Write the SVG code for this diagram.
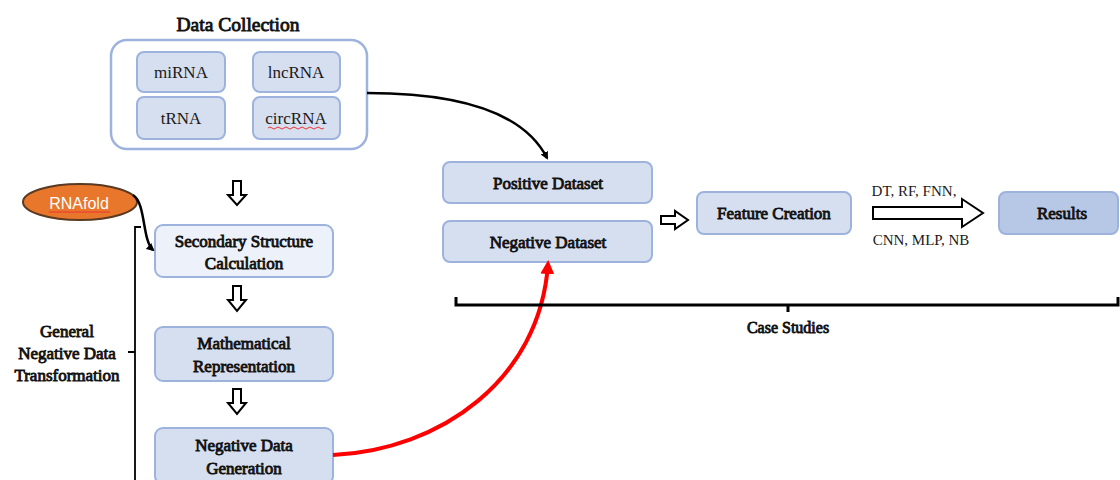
<svg xmlns="http://www.w3.org/2000/svg" width="1120" height="480" viewBox="0 0 1120 480">
<defs>
<style>
.box{fill:#D6DFF0;stroke:#9DB3DD;stroke-width:2}
.light{fill:#EDF1F9;stroke:#9DB3DD;stroke-width:2}
.res{fill:#B7C8E6;stroke:#9DB3DD;stroke-width:2}
.outer{fill:#fff;stroke:#9DB3DD;stroke-width:2.5}
.b{font-family:'Liberation Serif',serif;font-size:17px;fill:#111;stroke:#111;stroke-width:0.85;text-anchor:middle}
.r{font-family:'Liberation Serif',serif;font-size:17px;fill:#1a1a1a;text-anchor:middle}
.s{font-family:'Liberation Serif',serif;font-size:15px;fill:#1a1a1a;text-anchor:middle}
.hollow{fill:#fff;stroke:#000;stroke-width:2;stroke-linejoin:miter}
.line{fill:none;stroke:#000;stroke-width:2.5}
</style>
<marker id="ah" markerWidth="8" markerHeight="8" refX="6" refY="4" orient="auto" markerUnits="userSpaceOnUse" viewBox="0 0 8 8">
<path d="M0,0 L8,4 L0,8 Z" fill="#000"/>
</marker>
<marker id="ahr" markerWidth="14" markerHeight="14" refX="10" refY="7" orient="auto" markerUnits="userSpaceOnUse" viewBox="0 0 14 14">
<path d="M0,0 L14,7 L0,14 Z" fill="#f00"/>
</marker>
</defs>

<g id="data-collection">
<text class="b" x="238" y="31" style="font-size:19.5px">Data Collection</text>
<rect class="outer" x="111" y="40" width="256" height="109" rx="16"/>
</g>
<g id="mirna"><rect class="box" x="137" y="52" width="88" height="40" rx="7"/><text class="r" x="181" y="78">miRNA</text></g>
<g id="lncrna"><rect class="box" x="253" y="52" width="87" height="40" rx="7"/><text class="r" x="296" y="78">lncRNA</text></g>
<g id="trna"><rect class="box" x="137" y="97" width="88" height="42" rx="7"/><text class="r" x="181" y="124">tRNA</text></g>
<g id="circrna"><rect class="box" x="253" y="97" width="87" height="42" rx="7"/><text class="r" x="296" y="124">circRNA</text>
<path d="M268,128 q2,-2 4,0 t4,0 t4,0 t4,0 t4,0 t4,0 t4,0 t4,0 t4,0 t4,0 t4,0 t4,0 t4,0 t4,0" fill="none" stroke="#e33" stroke-width="1"/></g>

<g id="rnafold">
<ellipse cx="80" cy="202" rx="57" ry="18" fill="#E8762B" stroke="#5a3a22" stroke-width="2"/>
<text x="79" y="209" style="font-family:'Liberation Sans',sans-serif;font-size:16px;fill:#fff;text-anchor:middle">RNAfold</text>
<line x1="49" y1="212" x2="110" y2="212" stroke="#e33" stroke-width="1"/>
</g>

<g id="secondary"><rect class="light" x="155" y="225" width="178" height="52" rx="8"/><text class="b" x="244" y="247">Secondary Structure</text><text class="b" x="244" y="269">Calculation</text></g>
<g id="math"><rect class="box" x="155" y="327" width="178" height="54" rx="8"/><text class="b" x="244" y="349">Mathematical</text><text class="b" x="244" y="372">Representation</text></g>
<g id="neggen"><rect class="box" x="155" y="428" width="178" height="56" rx="8"/><text class="b" x="244" y="451">Negative Data</text><text class="b" x="244" y="474">Generation</text></g>

<g id="general-label">
<text class="b" x="67" y="337">General</text>
<text class="b" x="67" y="359">Negative Data</text>
<text class="b" x="67" y="381">Transformation</text>
</g>

<g id="positive"><rect class="box" x="443" y="162" width="209" height="41" rx="7"/><text class="b" x="548" y="189">Positive Dataset</text></g>
<g id="negative"><rect class="box" x="443" y="221" width="209" height="41" rx="7"/><text class="b" x="548" y="248">Negative Dataset</text></g>
<g id="feature"><rect class="box" x="697" y="192" width="154" height="42" rx="7"/><text class="b" x="774" y="219">Feature Creation</text></g>
<g id="results"><rect class="res" x="999" y="192" width="119" height="42" rx="7"/><text class="b" x="1062" y="219">Results</text></g>
<g id="case-label"><text class="b" x="788" y="333" style="font-size:16px">Case Studies</text></g>

<g id="connectors">
<polygon class="hollow" points="233,181 241,181 241,195 246,195 237,205 228,195 233,195"/>
<polygon class="hollow" points="233,286 241,286 241,300 246,300 237,311 228,300 233,300"/>
<polygon class="hollow" points="233,389 241,389 241,403 246,403 237,414 228,403 233,403"/>
<polygon class="hollow" points="661,216 675,216 675,211 688,220 675,229 675,224 661,224"/>
<polygon class="hollow" points="873,207 962,207 962,199 983,213 962,227 962,219 873,219"/>
<path class="line" d="M367,93 C440,93 520,105 547,158" marker-end="url(#ah)"/>
<path class="line" d="M133,195 C146,203 142,240 153,250" marker-end="url(#ah)"/>
<path d="M333,455 C440,450 540,380 548,264" fill="none" stroke="#f00" stroke-width="4" marker-end="url(#ahr)"/>
<path class="line" d="M141,227 L135,227 L135,480 M135,352 L128,352" style="stroke-width:1.8"/>
<path class="line" d="M456,297 L456,305 L1118,305 L1118,297 M788,305 L788,312" style="stroke-width:3"/>
<text class="s" x="914" y="196">DT, RF, FNN,</text>
<text class="s" x="921" y="245">CNN, MLP, NB</text>
</g>
</svg>
